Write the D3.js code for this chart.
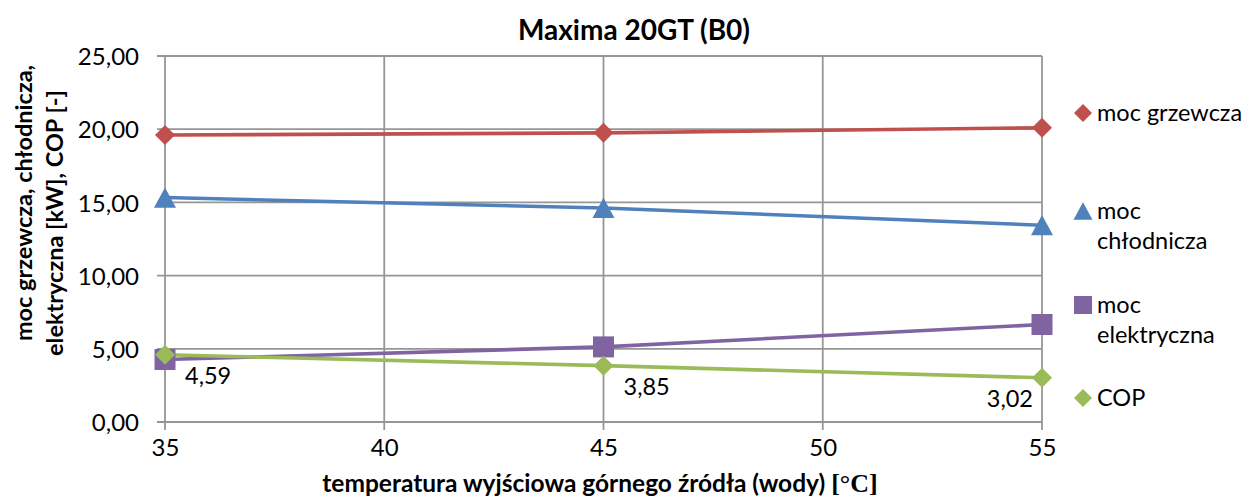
<!DOCTYPE html>
<html><head><meta charset="utf-8">
<script src="https://cdn.jsdelivr.net/npm/d3@7"></script>
<style>
body{margin:0;background:#fff;}
svg text{font-family:Lato,"Open Sans",sans-serif;fill:#000;}
</style></head>
<body><svg id="c" width="1252" height="497"></svg>
<script>
const xValues = [35, 45, 55];
const xTicks = [35, 40, 45, 50, 55];
const yTicks = [0, 5, 10, 15, 20, 25];
const seriesNames = ["moc grzewcza", "moc chłodnicza", "moc elektryczna", "COP"];
const mocGrzewcza = [19.6, 19.75, 20.1];
const mocChlodnicza = [15.33, 14.62, 13.44];
const mocElektryczna = [4.27, 5.13, 6.66];
const cop = [4.59, 3.85, 3.02];
const copLabels = ["4,59", "3,85", "3,02"];
const legendLines = [["moc grzewcza"], ["moc", "chłodnicza"], ["moc", "elektryczna"], ["COP"]];
const colors = ["#C0504D", "#4F81BD", "#8064A2", "#9BBB59"];
const shapeNames = ["diamond", "triangle", "square", "diamond"];

const svg = d3.select("#c");
const L = 165, R = 1042, T = 56, B = 422;
const x = d3.scaleLinear().domain([35, 55]).range([L, R]);
const y = d3.scaleLinear().domain([0, 25]).range([B, T]);
const fmt = v => d3.format(".2f")(v).replace(".", ",");
const FONT = "Lato, 'Open Sans', sans-serif";

function marker(shape, s) {
  // s = full width in px
  const h = s / 2;
  if (shape === "diamond") return `M0,${-h}L${h},0L0,${h}L${-h},0Z`;
  if (shape === "square") return `M${-h},${-h}H${h}V${h}H${-h}Z`;
  const th = s * 0.92;
  return `M0,${-th / 2}L${h},${th / 2}L${-h},${th / 2}Z`;
}

// grid
svg.append("g").selectAll("line").data(yTicks).join("line")
  .attr("x1", L - 8).attr("x2", R).attr("y1", d => y(d)).attr("y2", d => y(d))
  .attr("stroke", "#969696").attr("stroke-width", 1.8);
svg.append("g").selectAll("line").data(xTicks).join("line")
  .attr("x1", d => x(d)).attr("x2", d => x(d)).attr("y1", T).attr("y2", B + 8)
  .attr("stroke", "#969696").attr("stroke-width", 1.8);

// axis labels via d3 axes
const yAxis = svg.append("g").attr("transform", `translate(${L - 26},0)`)
  .call(d3.axisLeft(y).tickValues(yTicks).tickFormat(fmt).tickSize(0));
yAxis.select(".domain").remove();
yAxis.selectAll("text").attr("font-size", 24).attr("font-family", FONT).attr("fill", "#000")
  .attr("dy", "0.36em").attr("x", 0);
const xAxis = svg.append("g").attr("transform", `translate(0,${B + 25})`)
  .call(d3.axisBottom(x).tickValues(xTicks).tickFormat(d3.format("d")).tickSize(0));
xAxis.select(".domain").remove();
xAxis.selectAll("text").attr("font-size", 24).attr("font-family", FONT).attr("fill", "#000")
  .attr("dy", "0.36em").attr("y", 0);

// series
const data = [mocGrzewcza, mocChlodnicza, mocElektryczna, cop];
const line = d3.line().x((d, i) => x(xValues[i])).y(d => y(d));
data.forEach((vals, s) => {
  svg.append("path").datum(vals).attr("d", line)
    .attr("fill", "none").attr("stroke", colors[s]).attr("stroke-width", 3.6);
});
const msize = [20, 22, 21, 20];
data.forEach((vals, s) => {
  svg.append("g").selectAll("path").data(vals).join("path")
    .attr("d", marker(shapeNames[s], msize[s]))
    .attr("transform", (d, i) => `translate(${x(xValues[i])},${y(d)})`)
    .attr("fill", colors[s]);
});

// COP labels
svg.append("g").selectAll("text").data(cop).join("text")
  .attr("x", (d, i) => i === cop.length - 1 ? x(xValues[i]) - 9 : x(xValues[i]) + 20)
  .attr("y", (d, i) => y(d) + 21)
  .attr("dy", "0.36em")
  .attr("text-anchor", (d, i) => i === cop.length - 1 ? "end" : "start")
  .attr("font-size", 23.5)
  .text((d, i) => copLabels[i]);

// title
svg.append("text").attr("x", 634).attr("y", 40).attr("text-anchor", "middle")
  .attr("font-size", 28).attr("font-weight", "bold").text("Maxima 20GT (B0)");

// y label
const yLines = ["moc grzewcza, chłodnicza,", "elektryczna [kW], COP [-]"];
const yCenters = [203, 223];
const yBase = [32, 63];
yLines.forEach((t, k) => {
  svg.append("text").attr("transform", `translate(${yBase[k]},${yCenters[k]}) rotate(-90)`)
    .attr("text-anchor", "middle").attr("font-size", 23.5).attr("font-weight", "bold").text(t);
});

// x label
const xl = svg.append("text").attr("x", 600).attr("y", 492).attr("text-anchor", "middle")
  .attr("font-size", 24.5).attr("font-weight", "bold");
xl.append("tspan").text("temperatura wyjściowa górnego źródła (wody) ");
xl.append("tspan").attr("font-family", "'Liberation Serif', serif").attr("font-size", 26).text("[°C]");

// legend
const legY = [113, 211, 305, 398];
const lsize = [18, 19, 18, 18];
legendLines.forEach((lines, s) => {
  const g = svg.append("g").attr("transform", `translate(1083,${legY[s]})`);
  g.append("path").attr("d", marker(shapeNames[s], lsize[s])).attr("fill", colors[s]);
  lines.forEach((t, k) => {
    g.append("text").attr("x", 14).attr("y", k * 30).attr("dy", "0.36em")
      .attr("font-size", 23.5).text(t);
  });
});
</script></body></html>
